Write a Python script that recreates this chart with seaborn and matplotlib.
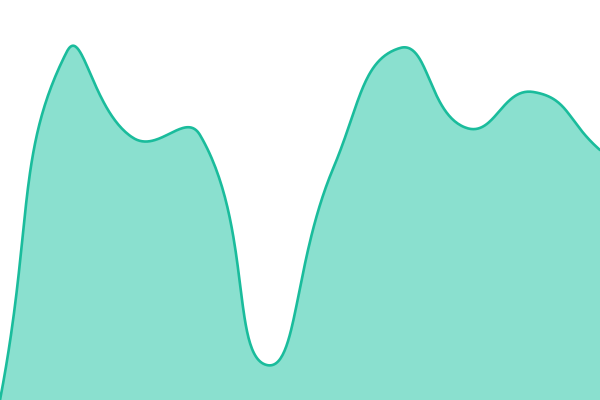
import numpy as np
import pandas as pd
import matplotlib
matplotlib.use("Agg")
import matplotlib.pyplot as plt
import seaborn as sns

sns.set_theme(style="white")

# chart values (0 = bottom of plot, 400 = top)
steps = [0, 1, 2, 3, 4, 5, 6, 7, 8, 9]
values = [0, 348, 262, 265, 35, 232, 352, 272, 308, 250]

line_color = "#1abc9c"
fill_color = "#8ae0cf"


def smooth_curve(x, y, sx=600 / 9, sy=1.0, smooth=0.5, n=60):
    # bezier smoothing done in screen space, only for drawing the line
    px = np.asarray(x, float) * sx
    py = np.asarray(y, float) * sy
    k = len(px)
    cp_in = np.zeros((k, 2))
    cp_out = np.zeros((k, 2))
    for i in range(k):
        p = np.array([px[i], py[i]])
        prev = np.array([px[max(i - 1, 0)], py[max(i - 1, 0)]])
        nxt = np.array([px[min(i + 1, k - 1)], py[min(i + 1, k - 1)]])
        v = nxt - prev
        d0 = np.hypot(*(p - prev))
        d1 = np.hypot(*(nxt - p))
        r = d1 / (d0 + d1) if d0 + d1 > 0 else 0.5
        cp_in[i] = p - v * smooth * (1 - r)
        cp_out[i] = p + v * smooth * r
    cp_in[0] = [px[0], py[0]]
    cp_out[-1] = [px[-1], py[-1]]
    xs, ys = [], []
    for i in range(k - 1):
        t = np.linspace(0, 1, n, endpoint=(i == k - 2))[:, None]
        a = np.array([px[i], py[i]])
        b = cp_out[i]
        c = cp_in[i + 1]
        d = np.array([px[i + 1], py[i + 1]])
        pts = (1 - t) ** 3 * a + 3 * (1 - t) ** 2 * t * b + 3 * (1 - t) * t**2 * c + t**3 * d
        xs.append(pts[:, 0] / sx)
        ys.append(pts[:, 1] / sy)
    return np.concatenate(xs), np.concatenate(ys)


cx, cy = smooth_curve(steps, values)
curve = pd.DataFrame({"step": cx, "value": cy})

fig = plt.figure(figsize=(6, 4), dpi=100)
ax = fig.add_axes([0, 0, 1, 1])
ax.fill_between(curve["step"], curve["value"], 0, color=fill_color, linewidth=0)
sns.lineplot(data=curve, x="step", y="value", color=line_color, linewidth=1.9,
             sort=False, ax=ax)
ax.set_xlim(0, 9)
ax.set_ylim(0, 400)
ax.axis("off")
fig.savefig("out.png", dpi=100)
